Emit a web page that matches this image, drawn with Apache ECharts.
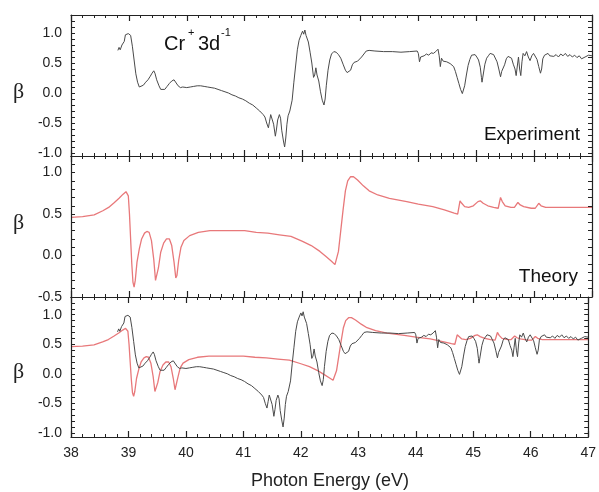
<!DOCTYPE html>
<html><head><meta charset="utf-8">
<script src="https://cdn.jsdelivr.net/npm/echarts@6/dist/echarts.min.js"></script>
<style>html,body{margin:0;padding:0;background:#fff}#c{width:599px;height:492px}</style>
</head><body><div id="c"></div>
<script>
// ---- data ----
const expE = [38.81,38.83,38.85,38.88,38.92,38.94,38.96,38.99,39.01,39.03,39.06,39.09,39.12,39.15,39.18,39.21,39.25,39.29,39.33,39.37,39.40,39.43,39.45,39.48,39.52,39.55,39.58,39.62,39.66,39.70,39.74,39.78,39.81,39.85,39.89,39.93,39.96,40.00,
40.03,40.06,40.09,40.12,40.15,40.18,40.21,40.24,40.27,40.30,40.33,40.36,40.39,40.42,40.45,40.48,40.51,40.54,40.57,40.60,40.63,40.66,40.69,40.72,40.75,40.78,40.81,40.84,40.87,40.90,40.93,40.96,40.99,41.02,41.05,41.08,41.11,41.14,41.17,41.20,41.23,41.26,41.29,41.32,41.35,41.38,41.41,41.43,41.45,41.48,41.50,41.53,41.55,41.57,41.60,41.62,41.64,41.67,41.69,41.71,41.73,41.75,41.78,41.80,41.82,41.85,41.88,41.91,41.94,41.97,42.00,42.02,42.04,42.06,42.08,42.10,42.13,42.16,42.19,42.21,42.23,42.25,42.28,42.31,42.34,42.37,42.39,42.41,42.44,42.47,42.50,42.54,42.58,42.62,42.66,42.70,42.74,42.77,42.80,42.83,42.86,42.89,42.92,42.95,42.98,43.02,43.06,43.10,43.15,43.25,43.40,43.55,43.70,43.85,43.98,44.00,44.02,44.04,44.07,44.10,44.14,44.18,44.22,44.26,44.30,44.34,44.36,44.38,44.40,44.43,44.46,44.49,44.52,44.55,44.58,44.61,44.64,44.67,44.70,44.73,44.76,44.78,44.80,44.83,44.86,44.89,44.92,44.95,44.98,45.01,45.04,45.07,45.09,45.10,45.12,45.15,45.18,45.21,45.24,45.27,45.30,45.33,45.36,45.39,45.42,45.44,45.46,45.49,45.52,45.55,45.58,45.61,45.64,45.67,45.69,45.71,45.73,45.75,45.77,45.79,45.81,45.84,45.87,45.90,45.93,45.96,45.99,46.02,46.05,46.08,46.11,46.13,46.15,46.18,46.21,46.24,46.27,46.30,46.34,46.38,46.42,46.46,46.50,46.54,46.58,46.62,46.66,46.70,46.74,46.78,46.82,46.85,46.88,46.91,46.94,46.97,47.00];
const expBeta = [0.71,0.76,0.72,0.80,0.86,0.97,1.00,0.99,1.01,0.96,0.78,0.55,0.32,0.18,0.10,0.09,0.13,0.18,0.22,0.28,0.33,0.37,0.33,0.22,0.12,0.06,0.04,0.06,0.11,0.16,0.20,0.22,0.19,0.12,0.09,0.10,0.07,0.09,
0.07,0.10,0.08,0.11,0.09,0.12,0.10,0.12,0.09,0.11,0.13,0.10,0.12,0.09,0.11,0.08,0.10,0.06,0.08,0.04,0.06,0.02,0.04,0.00,0.02,-0.03,-0.01,-0.05,-0.03,-0.08,-0.06,-0.10,-0.08,-0.13,-0.11,-0.17,-0.14,-0.20,-0.18,-0.25,-0.22,-0.30,-0.28,-0.36,-0.40,-0.50,-0.58,-0.47,-0.36,-0.33,-0.52,-0.72,-0.60,-0.45,-0.36,-0.42,-0.62,-0.80,-0.90,-0.75,-0.52,-0.38,-0.30,-0.32,-0.12,0.18,0.45,0.72,0.88,0.96,1.03,0.98,1.05,0.96,0.99,0.85,0.68,0.50,0.26,0.30,0.42,0.30,0.20,0.02,-0.12,-0.20,-0.10,0.12,0.38,0.55,0.65,0.69,0.68,0.64,0.58,0.48,0.38,0.34,0.33,0.38,0.47,0.51,0.49,0.53,0.56,0.60,0.65,0.70,0.71,0.70,0.69,0.69,0.68,0.69,0.70,0.66,0.52,0.60,0.63,0.62,0.65,0.63,0.67,0.66,0.69,0.73,0.62,0.44,0.58,0.53,0.56,0.52,0.54,0.49,0.47,0.44,0.36,0.26,0.16,0.06,-0.01,0.02,0.12,0.30,0.46,0.56,0.63,0.61,0.64,0.60,0.55,0.43,0.26,0.18,0.30,0.48,0.58,0.62,0.66,0.63,0.64,0.61,0.52,0.40,0.27,0.36,0.33,0.47,0.57,0.61,0.64,0.58,0.48,0.40,0.29,0.45,0.60,0.40,0.29,0.52,0.66,0.62,0.69,0.60,0.54,0.62,0.66,0.63,0.56,0.44,0.33,0.40,0.57,0.63,0.60,0.66,0.62,0.65,0.61,0.64,0.60,0.65,0.62,0.66,0.61,0.64,0.60,0.63,0.59,0.62,0.57,0.55,0.60,0.58,0.63,0.60,0.62];
const thE = [38.00,38.20,38.40,38.55,38.65,38.75,38.83,38.90,38.95,38.97,38.99,39.01,39.03,39.05,39.07,39.09,39.11,39.14,39.18,39.22,39.27,39.31,39.35,39.39,39.43,39.46,39.48,39.51,39.55,39.60,39.65,39.70,39.74,39.78,39.81,39.83,39.86,39.90,39.95,40.05,40.20,40.40,40.60,40.80,41.00,41.20,41.40,41.60,41.80,42.00,42.15,42.30,42.40,42.50,42.56,42.59,42.62,42.66,42.70,42.74,42.78,42.83,42.88,42.95,43.05,43.15,43.30,43.50,43.80,44.00,44.25,44.45,44.62,44.68,44.72,44.75,44.80,44.87,44.95,45.03,45.07,45.12,45.20,45.30,45.38,45.42,45.45,45.50,45.60,45.66,45.72,45.76,45.82,45.95,46.02,46.08,46.12,46.20,46.40,46.70,47.00];
const thBeta = [0.46,0.47,0.49,0.54,0.58,0.64,0.69,0.74,0.77,0.78,0.72,0.50,0.20,-0.10,-0.32,-0.38,-0.30,-0.08,0.08,0.20,0.27,0.29,0.28,0.18,-0.05,-0.30,-0.32,-0.15,0.04,0.15,0.20,0.20,0.12,-0.08,-0.27,-0.24,-0.06,0.10,0.18,0.24,0.28,0.30,0.30,0.30,0.30,0.28,0.27,0.25,0.23,0.17,0.12,0.05,-0.01,-0.07,-0.11,-0.10,0.05,0.30,0.55,0.78,0.90,0.95,0.95,0.91,0.84,0.78,0.73,0.69,0.65,0.62,0.59,0.55,0.51,0.50,0.66,0.63,0.59,0.58,0.60,0.65,0.66,0.63,0.60,0.58,0.57,0.70,0.65,0.60,0.58,0.58,0.64,0.61,0.59,0.57,0.57,0.63,0.60,0.58,0.58,0.58,0.58];
const xRange = [38, 47];
const yTicksFull = [-1.0, -0.5, 0.0, 0.5, 1.0];
const yTicksTheory = [-0.5, 0.0, 0.5, 1.0];
const panelNames = ['Experiment', 'Theory'];
const xTitle = 'Photon Energy (eV)';
const yTitle = 'β';

// ---- layout ----
const panels = [
  {top: 15, height: 141, min: -1.05, max: 1.3, major: yTicksFull},
  {top: 156, height: 141, min: -0.5, max: 1.2, major: yTicksTheory},
  {top: 297, height: 140, min: -1.07, max: 1.3, major: yTicksFull}
];
const AX = '#222';
const FONT = 'Liberation Sans';
function minorVals(min, max) {
  const out = [];
  for (let k = Math.ceil(min * 10 - 1e-9); k <= Math.floor(max * 10 + 1e-9); k++) out.push(k / 10);
  return out;
}
const grid = [], xAxis = [], yAxis = [];
panels.forEach((p, i) => {
  grid.push({left: 71, right: 7, top: p.top, height: p.height});
  ['bottom', 'top'].forEach(pos => {
    xAxis.push({
      type: 'value', gridIndex: i, position: pos, min: xRange[0], max: xRange[1], interval: 1, z: 5,
      axisLine: {show: true, onZero: false, lineStyle: {color: AX, width: 1.2}},
      axisTick: {show: true, inside: true, length: 6, lineStyle: {color: AX, width: 1.2}},
      minorTick: {show: true, splitNumber: 5, length: 3, lineStyle: {color: AX, width: 1}},
      splitLine: {show: false}, minorSplitLine: {show: false},
      axisLabel: {show: i === 2 && pos === 'bottom', color: '#222', fontFamily: FONT, fontSize: 14, margin: 9}
    });
  });
  ['left', 'right'].forEach(pos => {
    yAxis.push({
      type: 'value', gridIndex: i, position: pos, min: p.min, max: p.max, z: 5,
      axisLine: {show: true, onZero: false, lineStyle: {color: AX, width: 1.2}},
      axisTick: {show: true, inside: true, length: 4, customValues: minorVals(p.min, p.max), lineStyle: {color: AX, width: 1}},
      splitLine: {show: false},
      axisLabel: {show: pos === 'left', customValues: p.major, formatter: v => Number(v).toFixed(1),
        color: '#222', fontFamily: FONT, fontSize: 14, margin: 9}
    });
  });
});
const zip = (a, b) => a.map((v, k) => [v, b[k]]);
const expData = zip(expE, expBeta);
const thData = zip(thE, thBeta);
const EXPC = '#4a4a4a', THC = '#e8787a';
function ln(data, gi, color, w, z) {
  return {type: 'line', xAxisIndex: gi * 2, yAxisIndex: gi * 2, data: data, showSymbol: false,
    symbol: 'none', lineStyle: {color: color, width: w}, silent: true, animation: false, z: z};
}
const series = [
  ln(expData, 0, EXPC, 1, 3),
  ln(thData, 1, THC, 1.3, 3),
  ln(thData, 2, THC, 1.3, 2),
  ln(expData, 2, EXPC, 1, 3)
];
const txt = (x, y, s, size, extra) => Object.assign({type: 'text', x: x, y: y,
  style: Object.assign({text: s, fill: '#111', font: size + 'px "' + FONT + '"'}, extra || {})});
const graphic = [
  txt(164, 34, 'Cr', 20),
  txt(188, 27, '+', 11),
  txt(198, 34, '3d', 20),
  txt(221, 27, '-1', 11),
  txt(580, 125, panelNames[0], 19, {textAlign: 'right'}),
  txt(578, 267, panelNames[1], 19, {textAlign: 'right'}),
  txt(330, 472, xTitle, 18, {textAlign: 'center', fill: '#222'}),
  {type: 'text', x: 13, y: 81, style: {text: yTitle, fill: '#222', font: '22px "Liberation Serif"'}},
  {type: 'text', x: 13, y: 212, style: {text: yTitle, fill: '#222', font: '22px "Liberation Serif"'}},
  {type: 'text', x: 13, y: 361, style: {text: yTitle, fill: '#222', font: '22px "Liberation Serif"'}}
];
const chart = echarts.init(document.getElementById('c'), null, {renderer: 'canvas'});
chart.setOption({animation: false, backgroundColor: '#fff', grid, xAxis, yAxis, series, graphic});
</script></body></html>
